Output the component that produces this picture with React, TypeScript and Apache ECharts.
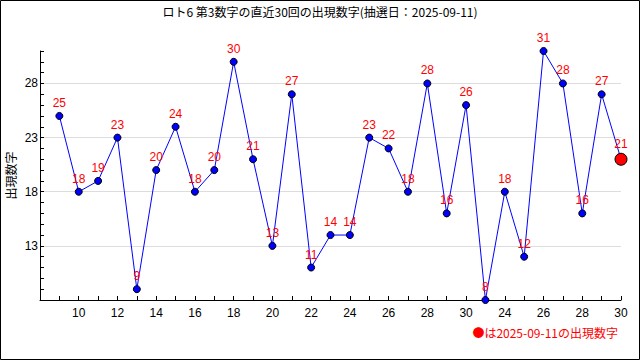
import React, { useEffect, useRef } from "react";
import * as echarts from "echarts";

const drawLabels = [
  "9", "10", "11", "12", "13", "14", "15", "16", "17", "18", "19", "20",
  "21", "22", "23", "24", "25", "26", "27", "28", "29", "30",
  "23", "24", "25", "26", "27", "28", "29", "30",
];
const values = [
  25, 18, 19, 23, 9, 20, 24, 18, 20, 30, 21, 13, 27, 11, 14, 14, 23, 22, 18,
  28, 16, 26, 8, 18, 12, 31, 28, 16, 27, 21,
];
const titleText = "ロト6 第3数字の直近30回の出現数字(抽選日：2025-09-11)";
const yName = "出現数字";
const noteText = "●は2025-09-11の出現数字";

export default function App() {
  const ref = useRef<HTMLDivElement>(null);
  useEffect(() => {
    if (!ref.current) return;
    const chart = echarts.init(ref.current, null, { renderer: "svg" });
    const last = values.length - 1;
    const data = values.map((v, i) =>
      i === last
        ? {
            value: [i, v],
            symbolSize: 12,
            itemStyle: { color: "#ff0000", borderColor: "#000", borderWidth: 1 },
          }
        : { value: [i, v] }
    );
    chart.setOption({
      animation: false,
      backgroundColor: "#fff",
      title: {
        text: titleText,
        left: "center",
        top: 0,
        textStyle: {
          fontSize: 12,
          fontWeight: "normal",
          color: "#000",
          fontFamily: "Noto Sans CJK JP",
        },
      },
      grid: {
        left: 40,
        right: 19,
        top: 51,
        bottom: 60,
        containLabel: false,
        outerBoundsMode: "none",
      },
      xAxis: {
        type: "value",
        min: -1,
        max: values.length - 1,
        interval: 1,
        axisLine: { show: true, onZero: false, lineStyle: { color: "#000", width: 1 } },
        axisTick: { show: true, inside: true, length: 4, lineStyle: { color: "#000", width: 1 } },
        splitLine: { show: false },
        axisLabel: {
          margin: 7,
          fontSize: 12,
          color: "#000",
          fontFamily: "Liberation Sans",
          formatter: (v: number) => {
            const i = Math.round(v);
            if (i < 0 || i >= drawLabels.length) return "";
            return i % 2 === 1 ? drawLabels[i] : "";
          },
        },
      },
      yAxis: {
        type: "value",
        min: 8,
        max: 31,
        interval: 5,
        name: yName,
        nameLocation: "middle",
        nameGap: 24,
        nameMoveOverlap: false,
        nameTextStyle: { fontSize: 12, color: "#000", fontFamily: "Noto Sans CJK JP" },
        axisLine: { show: true, onZero: false, lineStyle: { color: "#000", width: 1 } },
        axisTick: { show: true, inside: true, length: 4, lineStyle: { color: "#000", width: 1 } },
        minorTick: { show: true, splitNumber: 5, length: 4, lineStyle: { color: "#000", width: 1 } },
        axisLabel: {
          margin: 2,
          fontSize: 12,
          color: "#000",
          fontFamily: "Liberation Sans",
          showMinLabel: false,
          showMaxLabel: false,
        },
        splitLine: {
          show: true,
          showMinLine: false,
          showMaxLine: false,
          lineStyle: { color: "#dddddd", width: 1 },
        },
      },
      series: [
        {
          type: "line",
          data,
          symbol: "circle",
          symbolSize: 7,
          lineStyle: { color: "#0000ff", width: 1 },
          itemStyle: { color: "#0000ff", borderColor: "#000", borderWidth: 1 },
          label: {
            show: true,
            position: "top",
            distance: 3,
            color: "#ff0000",
            fontSize: 12,
            fontFamily: "Liberation Sans",
            formatter: (p: any) => String(p.value[1]),
          },
        },
      ],
      graphic: [
        {
          type: "rect",
          shape: { x: 0.5, y: 0.5, width: 639, height: 359 },
          style: { fill: "transparent", stroke: "#000", lineWidth: 1 },
          silent: true,
          z: 100,
        },
        {
          type: "text",
          right: 22,
          top: 326,
          style: {
            text: noteText,
            fill: "#ff0000",
            fontSize: 12,
            fontFamily: "Noto Sans CJK JP",
          },
        },
      ],
    });
    return () => chart.dispose();
  }, []);
  return (
    <div
      ref={ref}
      style={{ position: "fixed", left: 0, top: 0, width: 640, height: 360 }}
    />
  );
}
